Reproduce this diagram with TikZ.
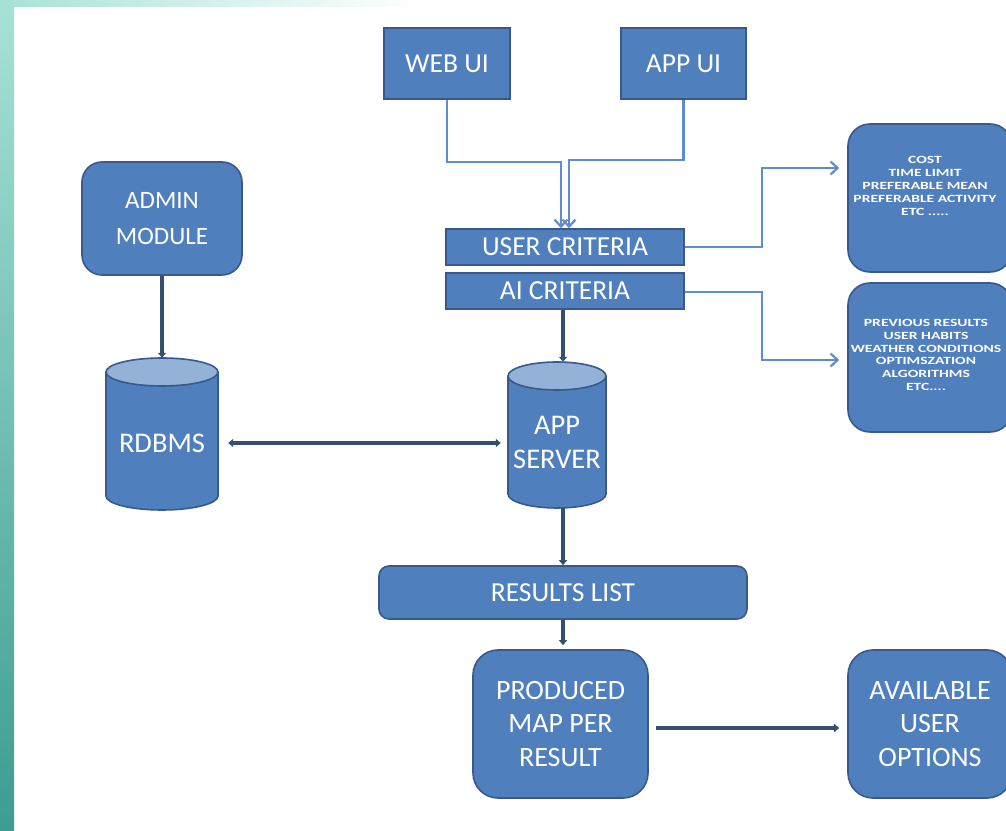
\documentclass[tikz,border=0pt]{standalone}
\usepackage{fontspec}
\setmainfont{Carlito}
\newfontfamily\widefont[FakeStretch=1.42]{Carlito}
\usetikzlibrary{arrows.meta}
\definecolor{boxfill}{HTML}{4F80BD}
\definecolor{boxedge}{HTML}{38598A}
\definecolor{cyltop}{HTML}{94B2D8}
\definecolor{darkline}{HTML}{34506E}
\definecolor{lightline}{HTML}{5F8DCB}
\definecolor{tealA}{HTML}{A8E2D6}
\definecolor{tealB}{HTML}{3E9C90}
\tikzset{
  box/.style={draw=boxedge, line width=1.6pt, fill=boxfill, text=white, align=center, inner sep=0pt},
  sqbox/.style={box, rectangle},
  rbox/.style={box, rounded corners=22pt},
  bigtxt/.style={font=\fontsize{27.5}{31}\selectfont},
  smalltxt/.style={font=\widefont\fontsize{11}{12.8}\selectfont\bfseries, text=white, align=center, inner sep=0pt},
  cylnode/.style={inner sep=0pt, text=white, align=center, font=\fontsize{28.5}{34}\selectfont},
  lightarrow/.style={draw=lightline, line width=2.8pt, -{Straight Barb[length=7pt,width=13pt,line width=2.2pt]}},
  darkarrow/.style={draw=darkline, line width=3.6pt, -{Triangle[length=5pt,width=8pt]}},
  darkboth/.style={draw=darkline, line width=3.6pt, {Triangle[length=5pt,width=8pt]}-{Triangle[length=5pt,width=8pt]}},
}
\newcommand{\mycyl}[5]{% cx cy hw hh e
  \fill[boxfill] ({#1-#3},{#2+#4-#5}) -- ({#1-#3},{#2-#4+#5})
     arc[start angle=180,end angle=360,x radius=#3,y radius=#5]
     -- ({#1+#3},{#2+#4-#5})
     arc[start angle=0,end angle=180,x radius=#3,y radius=#5] -- cycle;
  \fill[cyltop] (#1,{#2+#4-#5}) ellipse[x radius=#3,y radius=#5];
  \draw[boxedge, line width=1.6pt] ({#1-#3},{#2+#4-#5}) -- ({#1-#3},{#2-#4+#5})
     arc[start angle=180,end angle=360,x radius=#3,y radius=#5]
     -- ({#1+#3},{#2+#4-#5});
  \draw[boxedge, line width=1.6pt] (#1,{#2+#4-#5}) ellipse[x radius=#3,y radius=#5];
}
\begin{document}
\begin{tikzpicture}[x=1pt,y=1pt]
\useasboundingbox (0,0) rectangle (1006,830);
\clip (0,0) rectangle (1006,830);
% background
\fill[white] (0,0) rectangle (1006,830);
\shade[left color=tealA, right color=white] (0,823) rectangle (420,830);
\shade[top color=tealA, bottom color=tealB] (0,0) rectangle (14,830);

% top UI boxes
\node[sqbox, bigtxt, minimum width=126pt, minimum height=71pt] (web) at (447,766.5) {WEB UI};
\node[sqbox, bigtxt, minimum width=125pt, minimum height=71pt] (app) at (683.5,766.5) {APP UI};

% criteria bars
\node[sqbox, bigtxt, minimum width=238pt, minimum height=36pt] (user) at (565,583) {USER CRITERIA};
\node[sqbox, bigtxt, minimum width=238pt, minimum height=36pt] (ai) at (565,539) {AI CRITERIA};

% right info boxes
\node[rbox, minimum width=164pt, minimum height=148pt] (info1) at (930,632) {};
\node[smalltxt] (info1txt) at (925,644)
  {COST\\TIME LIMIT\\PREFERABLE MEAN\\PREFERABLE ACTIVITY\\ETC .....};
\node[rbox, minimum width=164pt, minimum height=149pt] (info2) at (930,472.5) {};
\node[smalltxt] (info2txt) at (926,475)
  {PREVIOUS RESULTS\\USER HABITS\\WEATHER CONDITIONS\\OPTIMSZATION\\ALGORITHMS\\ETC....};

% admin
\node[rbox, font=\fontsize{25}{36}\selectfont, minimum width=160pt, minimum height=113pt, rounded corners=20pt] (admin) at (162,611.5) {ADMIN\\MODULE};

% cylinders
\mycyl{162}{396}{56}{76}{14}
\node[cylnode, minimum width=112pt, minimum height=152pt] (rdbms) at (162,396) {};
\node[cylnode] (rdbmstxt) at (162,387) {RDBMS};
\mycyl{557}{395}{49}{73}{14}
\node[cylnode, minimum width=98pt, minimum height=146pt] (srv) at (557,395) {};
\node[cylnode] (srvtxt) at (557,388) {APP\\SERVER};

% results list
\node[rbox, bigtxt, minimum width=368pt, minimum height=53pt, rounded corners=10pt] (res) at (563,237.5) {RESULTS LIST};

% produced / available
\node[rbox, font=\fontsize{28}{33.5}\selectfont, minimum width=175pt, minimum height=148pt, rounded corners=25pt] (prod) at (560.5,106) {PRODUCED\\MAP PER\\RESULT};
\node[rbox, font=\fontsize{28}{33.5}\selectfont, minimum width=164pt, minimum height=148pt, rounded corners=25pt] (avail) at (930,106) {AVAILABLE\\USER\\OPTIONS};

% light connectors
\coordinate (wj1) at (447,668);
\coordinate (wj2) at (561,668);
\coordinate (aj1) at (683.5,670);
\coordinate (aj2) at (569,670);
\draw[lightarrow] (web.south) -- (wj1) -- (wj2) -- (wj2 |- user.north);
\draw[lightarrow] (app.south) -- (aj1) -- (aj2) -- (aj2 |- user.north);

\coordinate (uj1) at (762,583);
\coordinate (uj2) at (762,662);
\draw[lightarrow, shorten >=8pt] (user.east) -- (uj1) -- (uj2) -- (uj2 -| info1.west);
\coordinate (ij1) at (762,538);
\coordinate (ij2) at (762,470);
\draw[lightarrow, shorten >=8pt] ([yshift=-1pt]ai.east) -- (ij1) -- (ij2) -- (ij2 -| info2.west);

% dark connectors
\draw[darkarrow] (admin.south) -- (rdbms.north);
\draw[darkboth] ([xshift=10pt,yshift=-9pt]rdbms.east) -- ([xshift=-7pt,yshift=-8pt]srv.west);
\draw[darkarrow] ([xshift=-2pt]ai.south) -- ([xshift=6pt]srv.north);
\draw[darkarrow] ([xshift=6pt]srv.south) -- (res.north);
\draw[darkarrow] (res.south) -- ([xshift=2.5pt,yshift=4pt]prod.north);
\draw[darkarrow] ([xshift=7pt,yshift=-4pt]prod.east) -- ([xshift=-8pt,yshift=-4pt]avail.west);
\end{tikzpicture}
\end{document}
